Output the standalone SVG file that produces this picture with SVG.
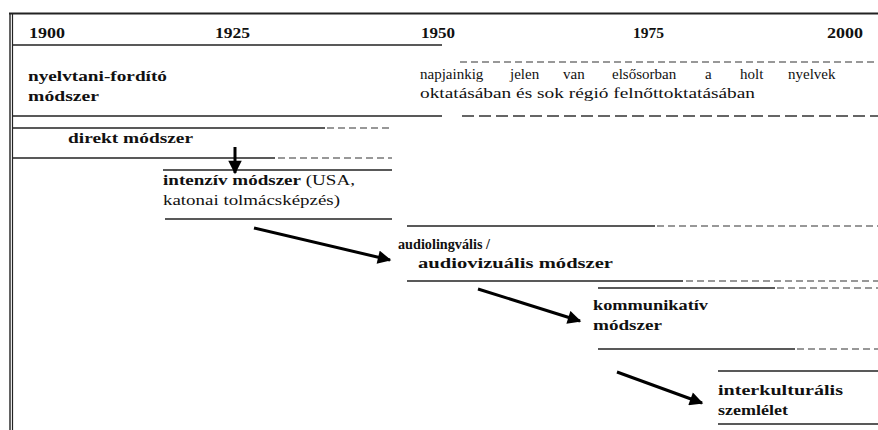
<svg xmlns="http://www.w3.org/2000/svg" width="878" height="430" viewBox="0 0 878 430">
<style>
.b{font-family:"Liberation Serif","DejaVu Serif","Times New Roman",serif;font-weight:bold;font-size:15px;fill:#111}
.r{font-family:"Liberation Serif","DejaVu Serif","Times New Roman",serif;font-size:15px;fill:#111}
.ln{stroke:#222;stroke-width:1.3;fill:none}
.d{stroke:#333;stroke-width:1.2;stroke-dasharray:7 4;fill:none}
.dl{stroke:#333;stroke-width:1.3;stroke-dasharray:12 5;fill:none}
.ar{stroke:#000;stroke-width:3;fill:none}
</style>
<defs>
<marker id="ah" viewBox="0 0 10 10" refX="9" refY="5" markerWidth="5" markerHeight="4.5" markerUnits="strokeWidth" orient="auto">
<path d="M0,0 L10,5 L0,10 z" fill="#000"/>
</marker>
</defs>
<rect width="878" height="430" fill="#fff"/>
<g id="frame">
<line class="ln" x1="9" y1="13.5" x2="878" y2="13.5" style="stroke-width:2.2"/>
<line class="ln" x1="10" y1="13" x2="10" y2="430" style="stroke-width:1.4"/>
<line class="ln" x1="12.5" y1="13" x2="12.5" y2="430" style="stroke-width:1.2"/>
<line class="ln" x1="12" y1="45" x2="442" y2="45"/>
</g>
<g id="years">
<text class="b" x="29" y="38" textLength="36" lengthAdjust="spacingAndGlyphs">1900</text>
<text class="b" x="215" y="38" textLength="35" lengthAdjust="spacingAndGlyphs">1925</text>
<text class="b" x="421" y="38" textLength="34" lengthAdjust="spacingAndGlyphs">1950</text>
<text class="b" x="633" y="38" textLength="31" lengthAdjust="spacingAndGlyphs">1975</text>
<text class="b" x="827" y="38" textLength="36" lengthAdjust="spacingAndGlyphs">2000</text>
</g>
<g id="nyelvtani">
<text class="b" x="28" y="81" textLength="139" lengthAdjust="spacingAndGlyphs">nyelvtani-fordító</text>
<text class="b" x="28" y="101" textLength="71" lengthAdjust="spacingAndGlyphs">módszer</text>
<line class="ln" x1="12" y1="116" x2="442" y2="116"/>
<line class="d" x1="460" y1="62" x2="878" y2="62"/>
<line class="dl" x1="462" y1="116" x2="878" y2="116"/>
<text class="r" y="79"><tspan x="420">napjainkig</tspan><tspan x="510">jelen</tspan><tspan x="563">van</tspan><tspan x="612">elsősorban</tspan><tspan x="705">a</tspan><tspan x="740">holt</tspan><tspan x="788">nyelvek</tspan></text>
<text class="r" x="420" y="98" textLength="335" lengthAdjust="spacingAndGlyphs">oktatásában és sok régió felnőttoktatásában</text>
</g>
<g id="direkt">
<line class="ln" x1="12" y1="128" x2="325" y2="128"/>
<line class="d" x1="327" y1="128" x2="392" y2="128"/>
<text class="b" x="68" y="143" textLength="125" lengthAdjust="spacingAndGlyphs">direkt módszer</text>
<line class="ln" x1="12" y1="158" x2="275" y2="158"/>
<line class="d" x1="278" y1="158" x2="392" y2="158"/>
</g>
<g id="intenziv">
<line class="ln" x1="163" y1="170" x2="392" y2="170"/>
<text x="163" y="185" textLength="192" lengthAdjust="spacingAndGlyphs"><tspan class="b">intenzív módszer</tspan><tspan class="r"> (USA,</tspan></text>
<text class="r" x="163" y="205" textLength="177" lengthAdjust="spacingAndGlyphs">katonai tolmácsképzés)</text>
<line class="ln" x1="165" y1="219" x2="392" y2="219"/>
</g>
<g id="audio">
<line class="ln" x1="407" y1="226" x2="655" y2="226"/>
<line class="d" x1="657" y1="226" x2="878" y2="226"/>
<text class="b" x="398" y="249" textLength="92" lengthAdjust="spacingAndGlyphs">audiolingvális /</text>
<text class="b" x="418" y="268" textLength="195" lengthAdjust="spacingAndGlyphs">audiovizuális módszer</text>
<line class="ln" x1="407" y1="281" x2="683" y2="281"/>
<line class="d" x1="686" y1="281" x2="878" y2="281"/>
</g>
<g id="kommunikativ">
<line class="ln" x1="598" y1="288" x2="775" y2="288"/>
<line class="d" x1="777" y1="288" x2="878" y2="288"/>
<text class="b" x="593" y="310" textLength="115" lengthAdjust="spacingAndGlyphs">kommunikatív</text>
<text class="b" x="593" y="330" textLength="69" lengthAdjust="spacingAndGlyphs">módszer</text>
<line class="ln" x1="598" y1="349" x2="795" y2="349"/>
<line class="d" x1="797" y1="349" x2="878" y2="349"/>
</g>
<g id="interkulturalis">
<line class="ln" x1="718" y1="371" x2="878" y2="371"/>
<text class="b" x="718" y="395" textLength="125" lengthAdjust="spacingAndGlyphs">interkulturális</text>
<text class="b" x="718" y="415" textLength="70" lengthAdjust="spacingAndGlyphs">szemlélet</text>
<line class="ln" x1="718" y1="424" x2="878" y2="424"/>
</g>
<g id="connectors">
<line class="ar" x1="235" y1="147" x2="235" y2="173" marker-end="url(#ah)"/>
<line class="ar" x1="254" y1="228" x2="390" y2="260" marker-end="url(#ah)"/>
<line class="ar" x1="478" y1="289" x2="580" y2="321" marker-end="url(#ah)"/>
<line class="ar" x1="617" y1="372" x2="702" y2="403" marker-end="url(#ah)"/>
</g>
</svg>
